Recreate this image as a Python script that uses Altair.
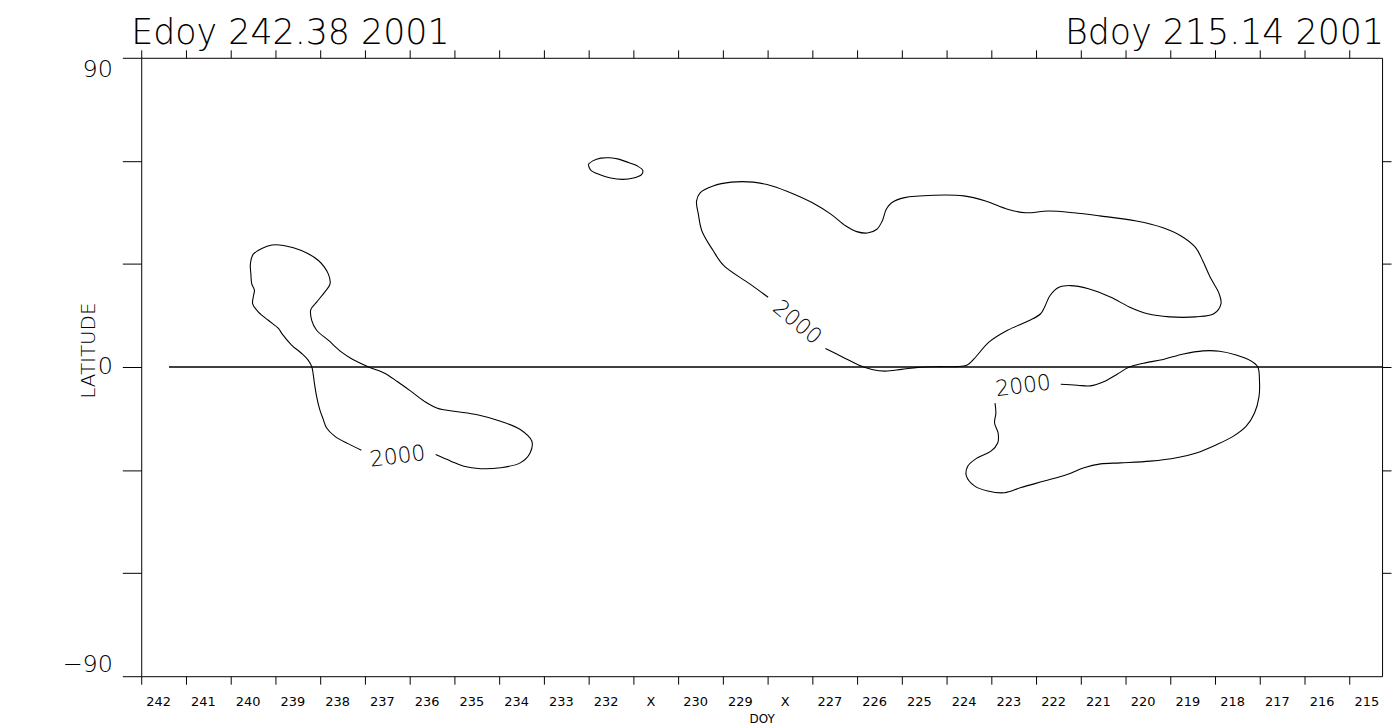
import altair as alt
import pandas as pd

# ---------------- data (DOY, latitude) ----------------
c1_doy = [237.46, 237.76, 238.05, 238.24, 238.31, 238.39, 238.46, 238.51, 238.54, 238.57,
          238.65, 238.80, 239.02, 239.24, 239.31, 239.54, 239.76, 239.89, 239.87, 239.85,
          239.91, 239.93, 239.94, 239.87, 239.46, 239.17, 238.80, 238.42, 238.20, 238.16,
          238.28, 238.46, 238.59, 238.57, 238.46, 238.20, 237.91, 237.69, 237.31, 236.94,
          236.65, 236.35, 236.05, 235.76, 235.39, 234.87, 234.35, 233.91, 233.65, 233.69,
          233.91, 234.35, 234.80, 235.17, 235.46, 235.80]
c1_lat = [-24.2, -22.3, -20.2, -17.7, -15.3, -12.4, -8.6, -4.7, -1.8, 0.1,
          2.0, 4.0, 6.4, 9.8, 11.2, 13.6, 16.0, 18.4, 20.8, 22.3,
          24.2, 27.1, 30.0, 32.9, 35.5, 35.3, 33.9, 31.0, 27.1, 24.2,
          21.8, 18.9, 16.7, 13.6, 10.7, 7.8, 4.4, 2.5, 0.1, -1.8,
          -4.3, -7.1, -10.0, -12.0, -12.9, -13.9, -15.8, -18.2, -21.6, -25.0,
          -27.9, -29.3, -29.6, -28.9, -27.4, -25.5]

c2_doy = [232.39, 232.29, 232.11, 231.91, 231.71, 231.49, 231.29, 231.17, 231.20, 231.38,
          231.62, 231.89, 232.14, 232.34, 232.39]
c2_lat = [59.0, 60.0, 60.8, 60.9, 60.5, 59.5, 58.5, 57.2, 56.0, 55.0,
          54.6, 55.0, 56.0, 57.4, 59.0]

c3_doy = [227.09, 226.72, 226.35, 226.05, 225.76, 225.39, 225.02, 224.57, 224.16, 223.92,
          223.76, 223.43, 223.02, 222.52, 222.28, 222.19, 222.07, 221.87, 221.62, 221.21,
          220.71, 220.30, 219.89, 219.40, 218.82, 218.41, 218.25, 218.29, 218.49, 218.66,
          218.82, 219.15, 219.56, 220.14, 220.96, 221.54, 222.11, 222.61, 223.02, 223.51,
          224.00, 224.66, 225.32, 225.61, 225.73, 225.82, 225.94, 226.15, 226.39, 226.64,
          226.97, 227.38, 227.79, 228.28, 228.70, 229.19, 229.60, 229.89, 229.97, 229.93,
          229.85, 229.60, 229.36, 228.78, 228.37]
c3_lat = [5.4, 3.0, 0.6, -0.7, -1.2, -0.7, -0.1, 0.1, 0.1, 0.6,
          2.5, 7.3, 10.7, 13.6, 15.5, 17.5, 20.8, 23.2, 23.7, 22.8,
          20.3, 17.5, 15.5, 14.6, 14.6, 15.5, 18.4, 21.3, 26.1, 31.0,
          34.8, 38.2, 40.6, 42.5, 44.0, 44.9, 45.4, 44.9, 45.9, 48.3,
          49.8, 50.0, 49.3, 47.8, 45.9, 42.5, 40.1, 39.0, 39.4, 41.1,
          44.5, 47.8, 50.3, 52.7, 53.8, 53.8, 52.7, 50.7, 48.3, 44.5,
          39.6, 33.9, 29.5, 24.2, 20.3]

c4_doy = [221.83, 221.46, 221.17, 220.87, 220.57, 220.31, 219.98, 219.54, 219.09, 218.65,
          218.28, 217.91, 217.61, 217.43, 217.39, 217.40, 217.50, 217.69, 217.98, 218.35,
          218.80, 219.24, 219.83, 220.50, 220.94, 221.31, 221.69, 222.20, 222.72, 223.09,
          223.46, 223.76, 223.94, 223.91, 223.69, 223.39, 223.24, 223.23, 223.31, 223.28,
          223.30]
c4_lat = [-5.0, -5.3, -5.5, -4.3, -2.1, -0.1, 1.1, 2.2, 3.8, 4.7,
          4.6, 3.5, 2.0, 0.1, -3.8, -8.6, -13.4, -17.3, -20.2, -22.6,
          -25.0, -26.4, -27.4, -27.9, -28.2, -29.3, -31.3, -33.2, -35.1, -36.6,
          -36.1, -34.6, -31.7, -28.9, -26.4, -24.5, -22.1, -19.2, -16.3, -13.4,
          -10.5]

label_text = ["2000", "2000", "2000"]
label_doy = [236.65, 227.72, 222.67]
label_lat = [-26.0, 13.0, -5.5]
label_angle = [353, 40, 353]

zero_doy = [241.76, 214.65]
zero_lat = [0, 0]

x_domain = [214.65, 242.38]
x_ticks = [round(242.38 - k, 2) for k in range(28)]
x_tick_labels = ["242", "241", "240", "239", "238", "237", "236", "235", "234", "233",
                 "232", "X", "230", "229", "X", "227", "226", "225", "224", "223",
                 "222", "221", "220", "219", "218", "217", "216", "215"]
y_ticks = [-90, -60, -30, 0, 30, 60, 90]
y_right_ticks = [-60, -30, 0, 30, 60]
title_left = "Edoy 242.38 2001"
title_right = "Bdoy 215.14 2001"

# ---------------- tables ----------------
rows = []
for cid, (xs, ys) in enumerate([(c1_doy, c1_lat), (c2_doy, c2_lat),
                                (c3_doy, c3_lat), (c4_doy, c4_lat)]):
    assert len(xs) == len(ys)
    for i, (a, b) in enumerate(zip(xs, ys)):
        rows.append({"doy": a, "lat": b, "cid": cid, "ord": i})
contours = pd.DataFrame(rows)
labels = pd.DataFrame({"doy": label_doy, "lat": label_lat, "txt": label_text, "ang": label_angle})
zero = pd.DataFrame({"doy": zero_doy, "lat": zero_lat, "ord": [0, 1]})

FONT = "DejaVu Sans"
W = 200  # light weight, close to the thin vector font of the original
xscale = alt.Scale(domain=x_domain, reverse=True, nice=False, zero=False)
yscale = alt.Scale(domain=[-90, 90], nice=False, zero=False)

label_expr = "[" + ",".join("'%s'" % s for s in x_tick_labels) + "][round(242.38 - datum.value)]"

contour_layer = alt.Chart(contours).mark_line(
    color="black", strokeWidth=1.1, interpolate="catmull-rom"
).encode(
    x=alt.X("doy:Q", scale=xscale, axis=alt.Axis(
        orient="bottom", values=x_ticks, labelExpr=label_expr, labelOffset=17,
        tickSize=8, labelFontSize=13, labelPadding=11, labelFlush=False,
        labelFont=FONT, labelFontWeight="normal", labelColor="black", tickColor="black",
        domainColor="black", grid=False, title="DOY", titleFont=FONT, titleFontSize=12,
        titleFontWeight="normal", titleX=624, titleY=47, titleBaseline="alphabetic",
        titleAlign="center", titleColor="black")),
    y=alt.Y("lat:Q", scale=yscale, axis=alt.Axis(
        orient="left", values=y_ticks,
        labelExpr="abs(datum.value) % 90 == 0 ? datum.label : ''",
        tickSize=19, labelFontSize=24, labelPadding=10, labelFlush=True,
        labelFont=FONT, labelFontWeight=W, labelColor="black", tickColor="black",
        domainColor="black", grid=False, title="LATITUDE", titleFont=FONT,
        titleFontSize=20, titleFontWeight=W, titleAngle=270, titleX=-53, titleY=294,
        titleAlign="center", titleBaseline="middle", titleColor="black")),
    detail="cid:N",
    order="ord:Q",
)

zero_layer = alt.Chart(zero).mark_line(color="black", strokeWidth=1.6, clip=False).encode(
    x=alt.X("doy:Q", scale=xscale, axis=alt.Axis(
        orient="top", values=x_ticks, labels=False, tickSize=8, grid=False,
        tickColor="black", domainColor="black", title=None)),
    y=alt.Y("lat:Q", scale=yscale, axis=alt.Axis(
        orient="right", values=y_right_ticks, labels=False, tickSize=9, grid=False,
        tickColor="black", domainColor="black", title=None)),
    order="ord:Q",
)

label_layer = alt.Chart(labels).mark_text(
    font=FONT, fontSize=22, fontWeight=W, color="black", align="center", baseline="middle"
).encode(
    x=alt.X("doy:Q", scale=xscale, axis=None),
    y=alt.Y("lat:Q", scale=yscale, axis=None),
    text="txt:N",
    angle=alt.Angle("ang:Q", scale=None),
)

tl = alt.Chart(pd.DataFrame({"t": [title_left]})).mark_text(
    font=FONT, fontSize=35, fontWeight=W, color="black", align="left", baseline="alphabetic"
).encode(x=alt.value(-10), y=alt.value(-14), text="t:N")
tr = alt.Chart(pd.DataFrame({"t": [title_right]})).mark_text(
    font=FONT, fontSize=35, fontWeight=W, color="black", align="right", baseline="alphabetic"
).encode(x=alt.value(1250), y=alt.value(-14), text="t:N")

chart = alt.layer(contour_layer, zero_layer, label_layer, tl, tr).resolve_scale(
    x="independent", y="independent"
).properties(
    width=1248, height=622,
    autosize=alt.AutoSizeParams(type="none"),
    padding={"left": 134, "top": 48, "right": 10, "bottom": 50},
    background="white",
).configure_view(stroke=None).configure_axis(domainWidth=1, tickWidth=1)

chart.save("out.html", embed_options={"renderer": "svg", "actions": False})
